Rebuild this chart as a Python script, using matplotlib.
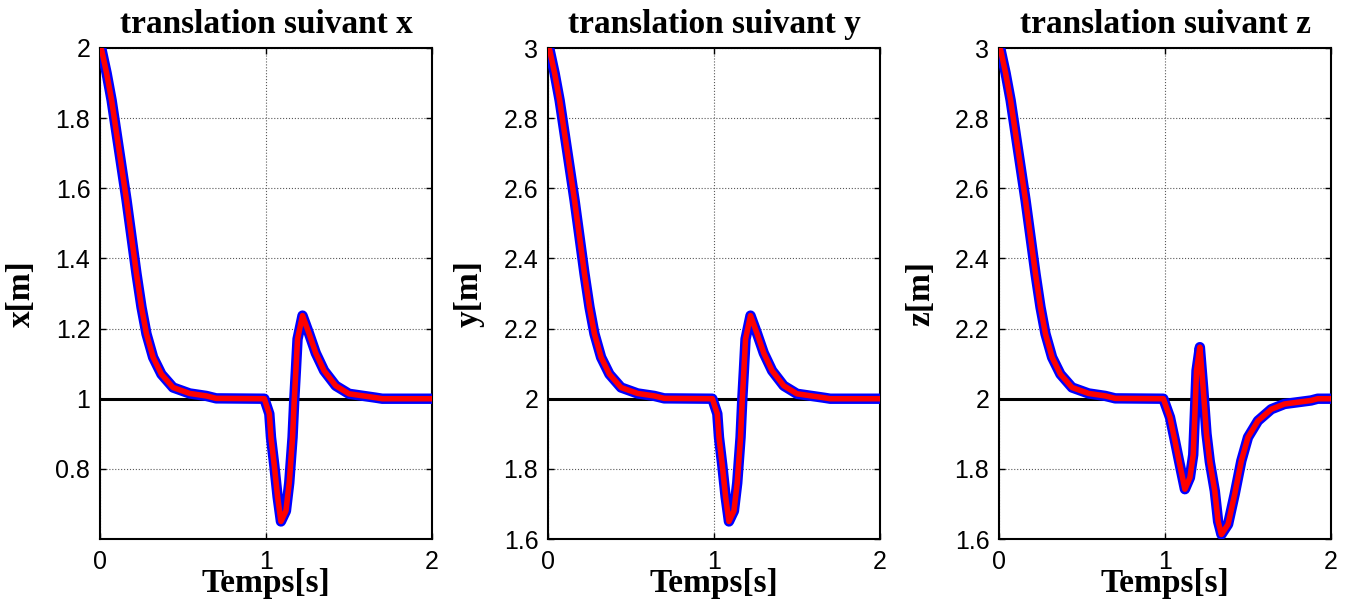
import numpy as np
import matplotlib
matplotlib.use("Agg")
import matplotlib.pyplot as plt

# temps [s] et valeurs
t_xy = [0.0, 0.01, 0.04, 0.07, 0.10, 0.13, 0.16, 0.19, 0.22, 0.25, 0.28, 0.32, 0.37,
        0.44, 0.54, 0.64, 0.70, 0.99, 1.02, 1.03, 1.05, 1.07, 1.09, 1.12, 1.14,
        1.16, 1.17, 1.18, 1.19, 1.22, 1.26, 1.30, 1.35, 1.42, 1.50, 1.66, 1.70, 2.0]
x_pos = [2.0, 1.994, 1.928, 1.851, 1.756, 1.661, 1.566, 1.461, 1.356, 1.261, 1.185,
         1.118, 1.070, 1.032, 1.015, 1.008, 1.001, 1.0, 0.957, 0.89, 0.81, 0.72,
         0.65, 0.68, 0.76, 0.89, 0.994, 1.08, 1.17, 1.237, 1.185, 1.13, 1.08, 1.037,
         1.014, 1.003, 1.0, 1.0]
y_pos = [3.0, 2.994, 2.928, 2.851, 2.756, 2.661, 2.566, 2.461, 2.356, 2.261, 2.185,
         2.118, 2.070, 2.032, 2.015, 2.008, 2.001, 2.0, 1.957, 1.89, 1.81, 1.72,
         1.65, 1.68, 1.76, 1.89, 1.994, 2.08, 2.17, 2.237, 2.185, 2.13, 2.08, 2.037,
         2.014, 2.003, 2.0, 2.0]

t_z = [0.0, 0.01, 0.04, 0.07, 0.10, 0.13, 0.16, 0.19, 0.22, 0.25, 0.28, 0.32, 0.37,
       0.44, 0.54, 0.64, 0.70, 0.99, 1.03, 1.06, 1.09, 1.12, 1.15, 1.17, 1.18, 1.19,
       1.21, 1.23, 1.25, 1.27, 1.30, 1.32, 1.34, 1.38, 1.42, 1.46, 1.50, 1.56, 1.64,
       1.72, 1.88, 1.92, 2.0]
z_pos = [3.0, 2.994, 2.928, 2.851, 2.756, 2.661, 2.566, 2.461, 2.356, 2.261, 2.185,
         2.118, 2.070, 2.032, 2.015, 2.008, 2.001, 2.0, 1.947, 1.88, 1.81, 1.742,
         1.775, 1.84, 1.957, 2.08, 2.147, 2.03, 1.90, 1.82, 1.737, 1.65, 1.613,
         1.642, 1.728, 1.823, 1.89, 1.937, 1.97, 1.985, 1.995, 2.0, 2.0]

consignes = [1.0, 2.0, 2.0]
titres = ["translation suivant x", "translation suivant y", "translation suivant z"]
ylabels = ["x[m]", "y[m]", "z[m]"]
ylims = [(0.6, 2.0), (1.6, 3.0), (1.6, 3.0)]
yticks = [[0.8, 1.0, 1.2, 1.4, 1.6, 1.8, 2.0],
          [1.6, 1.8, 2.0, 2.2, 2.4, 2.6, 2.8, 3.0],
          [1.6, 1.8, 2.0, 2.2, 2.4, 2.6, 2.8, 3.0]]
xticks = [0, 1, 2]

series = [(t_xy, x_pos), (t_xy, y_pos), (t_z, z_pos)]
lefts = [100, 548, 999]

fig = plt.figure(figsize=(13.49, 5.99), dpi=100)
serif = ["Liberation Serif", "DejaVu Serif"]

for k in range(3):
    ax = fig.add_axes([lefts[k] / 1349, 1 - 539 / 599, 332 / 1349, 491 / 599])
    t, v = series[k]
    ax.plot([0, 2], [consignes[k], consignes[k]], color="black", lw=2.2, zorder=2)
    ax.plot(t, v, color="blue", lw=7.5, solid_capstyle="round",
            solid_joinstyle="round", zorder=3)
    ax.plot(t, v, color="red", lw=4, solid_capstyle="round",
            solid_joinstyle="round", zorder=4)

    ax.set_xlim(0, 2)
    ax.set_ylim(*ylims[k])
    ax.set_xticks(xticks)
    ax.set_xticklabels([str(x) for x in xticks])
    ax.set_yticks(yticks[k])
    ax.set_yticklabels(["%g" % y for y in yticks[k]])
    ax.grid(True, linestyle=":", color="0.35", lw=0.8)
    ax.tick_params(direction="in", length=4, top=True, right=True, labelsize=18,
                   width=1)
    ax.tick_params(axis="x", pad=8)
    ax.tick_params(axis="y", pad=7)
    for lab in ax.get_xticklabels() + ax.get_yticklabels():
        lab.set_fontfamily(["Liberation Sans", "DejaVu Sans"])
    for s in ax.spines.values():
        s.set_linewidth(1.5)

    ax.set_title(titres[k], fontsize=24, fontweight="bold", family=serif, pad=11)
    ax.set_xlabel("Temps[s]", fontsize=24, fontweight="bold", family=serif)
    ax.xaxis.set_label_coords(0.5, -0.06)
    ax.set_ylabel(ylabels[k], fontsize=24, fontweight="bold", family=serif)
    ax.yaxis.set_label_coords(-0.19, 0.5)

fig.savefig("out.png", dpi=100)
